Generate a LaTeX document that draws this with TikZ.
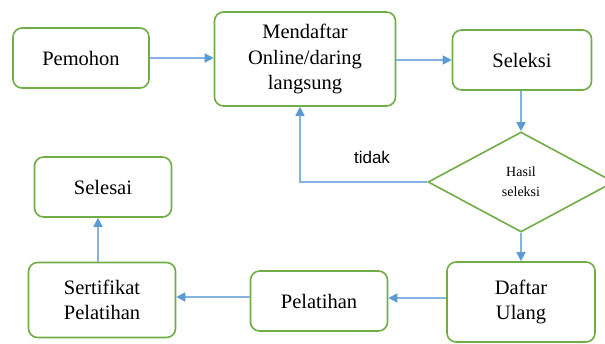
\documentclass[tikz,border=0pt]{standalone}
\usepackage{fontspec}
\setmainfont{Liberation Serif}
\newfontfamily\labelfont{Liberation Sans}
\usetikzlibrary{shapes.geometric,arrows.meta}
\definecolor{boxgreen}{RGB}{112,173,71}
\definecolor{linkblue}{RGB}{91,155,213}

\tikzset{
  box/.style={draw=boxgreen, line width=1.6pt, rounded corners=9pt, fill=white, align=center,
    inner sep=0pt, font=\fontsize{20.5}{25.5}\selectfont},
  decision/.style={shape=diamond, draw=boxgreen, line width=1.6pt, fill=white, align=center,
    inner sep=0pt, font=\fontsize{14}{20}\selectfont},
  link/.style={draw=linkblue!75, line width=1.5pt, -{Triangle[length=9pt,width=9pt,color=linkblue]}},
}

\begin{document}
\begin{tikzpicture}[x=1pt,y=-1pt]
    \useasboundingbox (0,0) rectangle (605,343);

    % top row
    \node[box, minimum width=136pt, minimum height=60pt] (pemohon) at (81,58) {Pemohon};
    \node[box, minimum width=181pt, minimum height=94pt] (daftar) at (305,59) {Mendaftar\\Online/daring\\langsung};
    \node[box, minimum width=139pt, minimum height=60pt] (seleksi) at (522,60) {Seleksi};

    % decision
    \node[decision, minimum width=186pt, minimum height=100pt] (hasil) at (521,182) {Hasil\\seleksi};

    % bottom row
    \node[box, minimum width=137pt, minimum height=60pt] (selesai) at (103,187) {Selesai};
    \node[box, minimum width=147pt, minimum height=75pt] (sertifikat) at (102,300) {Sertifikat\\Pelatihan};
    \node[box, minimum width=137pt, minimum height=60pt] (pelatihan) at (319,301) {Pelatihan};
    \node[box, minimum width=148pt, minimum height=80pt] (ulang) at (521,302) {Daftar\\Ulang};

    \draw[link] (pemohon.east) -- (pemohon.east -| daftar.west);
    \draw[link] (daftar.east |- seleksi.west) -- (seleksi.west);
    \draw[link] (seleksi.south -| hasil.north) -- (hasil.north);
    \draw[link] (hasil.west) -| ([xshift=-5pt]daftar.south);
    \node[font=\labelfont\fontsize{17}{20}\selectfont] (tidak) at (372,157) {tidak};
    \draw[link] (hasil.south) -- (ulang.north);
    \draw[link] ([yshift=4pt]ulang.west) -- ([yshift=4pt]ulang.west -| pelatihan.east);
    \draw[link] ([yshift=4pt]pelatihan.west) -- ([yshift=4pt]pelatihan.west -| sertifikat.east);
    \draw[link] ([xshift=-4pt]sertifikat.north) -- ([xshift=-4pt]sertifikat.north |- selesai.south);
\end{tikzpicture}
\end{document}
